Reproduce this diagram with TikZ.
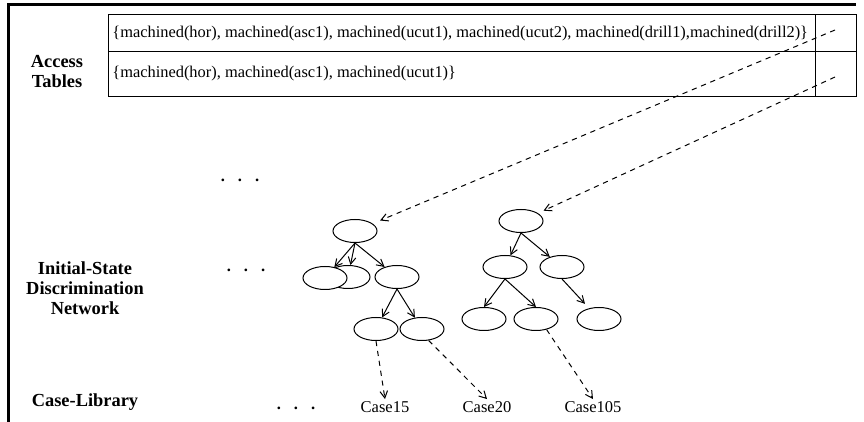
\documentclass[tikz,border=0pt]{standalone}
\usepackage{fontspec}
\setmainfont{Liberation Serif}
\usepackage{tikz}
\usetikzlibrary{arrows.meta, shapes.geometric}

\begin{document}
\begin{tikzpicture}[x=0.5pt, y=-0.5pt,
    oval/.style={draw, ellipse, line width=0.5pt, minimum width=22pt, minimum height=11.5pt, inner sep=0pt},
    link/.style={line width=0.5pt, -{Straight Barb[length=3.5pt, width=3.8pt]}},
    ptr/.style={link, dash pattern=on 2.6pt off 2.4pt},
    tbl/.style={line width=0.5pt},
    entry/.style={anchor=west, inner sep=0pt, font=\fontsize{8.2pt}{10pt}\selectfont},
    layer/.style={align=center, inner sep=0pt, font=\fontsize{9.2pt}{10pt}\selectfont\bfseries},
    dots/.style={inner sep=0pt, anchor=base, font=\fontsize{8.25pt}{10pt}\selectfont\bfseries},
    casename/.style={inner sep=1pt, font=\fontsize{8.25pt}{10pt}\selectfont}
]
  \useasboundingbox (0,0) rectangle (864,422);

  % Rahmen oben und links
  \draw[line width=1.5pt] (8,422) -- (8,5) -- (856,5);

  % Schichten
  \node[layer] (acc) at (57,72) {Access\\Tables};
  \node[layer] (isdn) at (85,288) {Initial-State\\Discrimination\\Network};
  \node[layer] (lib) at (85,402) {Case-Library};

  % Zugriffstabelle
  \draw[tbl] (108,15) rectangle (856,97);
  \draw[tbl] (108,52) -- (856,52);
  \draw[tbl] (815,15) -- (815,97);
  \node[entry] (row1) at (112,34) {\{machined(hor), machined(asc1), machined(ucut1), machined(ucut2), machined(drill1),machined(drill2)\}};
  \node[entry] (row2) at (112,74) {\{machined(hor), machined(asc1), machined(ucut1)\}};
  \coordinate (ptr1) at (835,30);
  \coordinate (ptr2) at (835,77);

  % Punkte
  \node[dots] (dotsa) at (240,182) {.\hskip6.5pt.\hskip6.5pt.};
  \node[dots] (dotsb) at (246,272) {.\hskip6.5pt.\hskip6.5pt.};
  \node[dots] (dotsc) at (296,410) {.\hskip6.5pt.\hskip6.5pt.};

  % erster Baum
  \node[oval] (r1) at (355,231) {};
  \node[oval] (l1b) at (348,277) {};
  \node[oval, fill=white] (l1) at (325,278) {};
  \node[oval] (m1) at (397,277) {};
  \node[oval] (c1) at (376,329) {};
  \node[oval] (d1) at (422,329) {};
  \draw[link] (r1.south) -- (l1);
  \draw[link] (r1.south) -- (l1b);
  \draw[link] (r1.south) -- (m1);
  \draw[link] (m1.south) -- (c1);
  \draw[link] (m1.south) -- (d1);

  % zweiter Baum
  \node[oval] (r2) at (521,221) {};
  \node[oval] (a2) at (505,267) {};
  \node[oval] (b2) at (562,267) {};
  \node[oval] (c2) at (484,319) {};
  \node[oval] (d2) at (536,319) {};
  \node[oval] (e2) at (599,319) {};
  \draw[link] (r2.south) -- (a2);
  \draw[link] (r2.south) -- (b2);
  \draw[link] (a2.south) -- (c2.north);
  \draw[link] (a2.south) -- (d2.north);
  \draw[link, shorten >=3pt] (b2.south) -- (e2);

  % Zeiger aus der Tabelle
  \draw[ptr, shorten >=4pt] (ptr1) -- (r1);
  \draw[ptr, shorten >=3pt] (ptr2) -- (r2);

  % Faelle
  \node[casename] (case15) at (385,407) {Case15};
  \node[casename] (case20) at (487,407) {Case20};
  \node[casename] (case105) at (593,407) {Case105};
  \draw[ptr] (c1.south) -- (case15.north);
  \draw[ptr] (d1.-60) -- (case20.north);
  \draw[ptr] (d2.-45) -- (case105.north);

\end{tikzpicture}
\end{document}
